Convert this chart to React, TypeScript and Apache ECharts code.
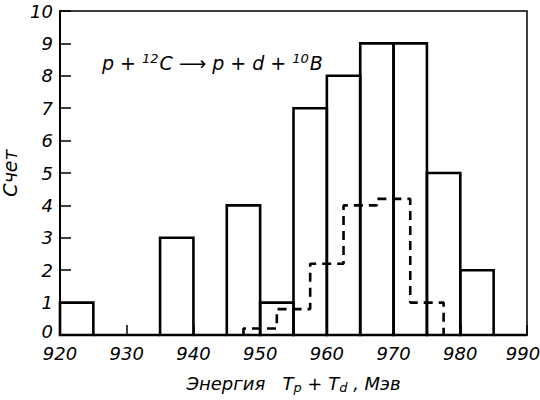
import React, { useEffect, useRef } from "react";
import * as echarts from "echarts";

const X_MIN = 920;
const X_MAX = 990;
const X_INTERVAL = 10;
const Y_MIN = 0;
const Y_MAX = 10;
const Y_INTERVAL = 1;
const BIN_WIDTH = 5;

const solidBinStarts = [920, 925, 930, 935, 940, 945, 950, 955, 960, 965, 970, 975, 980, 985];
const solidCounts = [1, 0, 0, 3, 0, 4, 1, 7, 8, 9, 9, 5, 2, 0];

const dashedBinStarts = [947.5, 952.5, 957.5, 962.5, 967.5, 972.5];
const dashedCounts = [0.2, 0.8, 2.2, 4.0, 4.2, 1.0];

const FONT = "'DejaVu Sans', sans-serif";

export default function App() {
  const ref = useRef<HTMLDivElement>(null);
  useEffect(() => {
    if (!ref.current) return;
    const chart = echarts.init(ref.current, null, { renderer: "svg" });

    const solidData = solidBinStarts.map((s, i) => [s, s + BIN_WIDTH, solidCounts[i]]);
    const dashedPts: number[][] = [];
    dashedBinStarts.forEach((s, i) => {
      if (i === 0) dashedPts.push([s, 0]);
      dashedPts.push([s, dashedCounts[i]]);
      dashedPts.push([s + BIN_WIDTH, dashedCounts[i]]);
    });
    const lastEnd = dashedBinStarts[dashedBinStarts.length - 1] + BIN_WIDTH;
    dashedPts.push([lastEnd, 0]);

    const italic = { fontFamily: FONT, fontStyle: "italic" as const, fontWeight: "normal" as const, color: "#000" };

    chart.setOption({
      animation: false,
      backgroundColor: "#fff",
      title: {
        left: 97,
        top: 47,
        text: "{i|p + }{sup|12}{i|C ⟶ p + d + }{sup|10}{i|B}",
        textStyle: {
          fontWeight: "normal",
          rich: {
            i: { ...italic, fontSize: 19 },
            sup: { ...italic, fontSize: 13, verticalAlign: "top", padding: [0, 1, 8, 0] },
          },
        },
      },
      grid: {
        left: 60,
        right: 13,
        top: 11,
        bottom: 65,
        outerBoundsMode: "none",
        containLabel: false,
        show: true,
        borderColor: "#000",
        borderWidth: 1.5,
        backgroundColor: "transparent",
      },
      xAxis: {
        type: "value",
        min: X_MIN,
        max: X_MAX,
        interval: X_INTERVAL,
        name: "{i|Энергия   T}{sub|p}{i| + T}{sub|d}{i| , Мэв}",
        nameLocation: "middle",
        nameGap: 38,
        nameTextStyle: {
          rich: {
            i: { ...italic, fontSize: 18 },
            sub: { ...italic, fontSize: 13, verticalAlign: "bottom", padding: [8, 0, 0, 0] },
          },
        },
        axisLine: { lineStyle: { color: "#000", width: 2 } },
        axisTick: { inside: true, length: 10, lineStyle: { color: "#000", width: 1.5 } },
        axisLabel: {
          ...italic,
          fontSize: 18,
          lineHeight: 18,
          margin: 9,
          formatter: (v: number) => (v === X_MAX ? `{last|${v}}` : `${v}`),
          rich: { last: { ...italic, fontSize: 18, lineHeight: 18, padding: [0, 8, 0, 0] } },
        },
        splitLine: { show: false },
      },
      yAxis: {
        type: "value",
        min: Y_MIN,
        max: Y_MAX,
        interval: Y_INTERVAL,
        name: "Счет",
        nameLocation: "middle",
        nameGap: 30,
        nameRotate: 90,
        nameTextStyle: { ...italic, fontSize: 19 },
        axisLine: { lineStyle: { color: "#000", width: 2 } },
        axisTick: { inside: true, length: 11, lineStyle: { color: "#000", width: 1.5 } },
        axisLabel: {
          ...italic,
          fontSize: 18,
          lineHeight: 16,
          margin: 7,
          formatter: (v: number) => (v === Y_MIN ? `{zero|${v}}` : `${v}`),
          rich: { zero: { ...italic, fontSize: 18, lineHeight: 16, padding: [0, 0, 8, 0] } },
        },
        splitLine: { show: false },
      },
      series: [
        {
          type: "custom",
          data: solidData,
          encode: { x: [0, 1], y: 2 },
          clip: false,
          renderItem: (params: any, api: any) => {
            const x0 = api.value(0);
            const x1 = api.value(1);
            const v = api.value(2);
            const a = api.coord([x0, 0]);
            const b = api.coord([x0, v]);
            const c = api.coord([x1, v]);
            const d = api.coord([x1, 0]);
            return {
              type: "polygon",
              shape: { points: [a, b, c, d] },
              style: { fill: "none", stroke: "#000", lineWidth: 2.6 },
            };
          },
        },
        {
          type: "line",
          data: dashedPts,
          symbol: "none",
          lineStyle: { color: "#000", width: 2.6, type: [9, 6] },
          z: 3,
        },
      ],
    });
    return () => chart.dispose();
  }, []);
  return <div ref={ref} style={{ position: "fixed", left: 0, top: 0, width: 540, height: 400 }} />;
}
